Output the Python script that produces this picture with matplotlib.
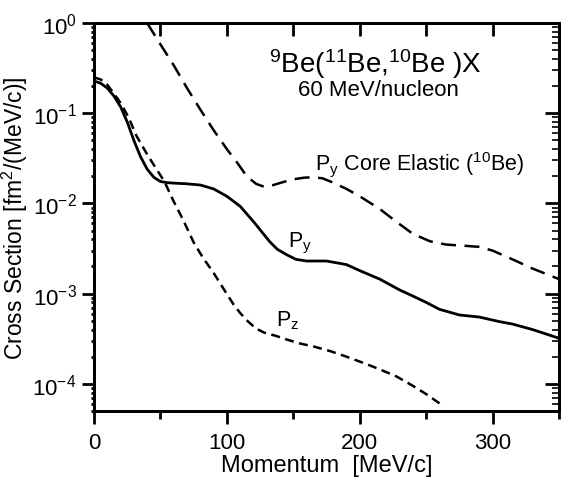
import numpy as np
import matplotlib
matplotlib.use("Agg")
import matplotlib.pyplot as plt
from matplotlib.ticker import LogLocator, MultipleLocator, NullFormatter

plt.rcParams["font.family"] = ["Liberation Sans", "DejaVu Sans"]
plt.rcParams["mathtext.fontset"] = "custom"
plt.rcParams["mathtext.rm"] = "Liberation Sans"
plt.rcParams["mathtext.it"] = "Liberation Sans:italic"
plt.rcParams["mathtext.default"] = "regular"

# ---- data ----
py_x = [0, 5, 10, 15, 20, 25, 30, 35, 40, 45, 50, 55, 60, 70, 80, 90, 100, 110,
        120, 126, 132, 138, 145, 152, 160, 175, 190, 200, 215, 230, 240, 250,
        260, 275, 290, 305, 315, 330, 350]
py_y = [0.228, 0.215, 0.19, 0.155, 0.118, 0.08, 0.05, 0.033, 0.024, 0.0195,
        0.0175, 0.017, 0.0168, 0.0165, 0.016, 0.0145, 0.012, 0.0093, 0.0063,
        0.0049, 0.0038, 0.0031, 0.0027, 0.0024, 0.0023, 0.0023, 0.0021,
        0.0018, 0.00145, 0.0011, 0.00094, 0.0008, 0.00067, 0.00058, 0.00055,
        0.00049, 0.00046, 0.0004, 0.00032]

pz_x = [0, 5, 10, 15, 20, 26, 32, 40, 47, 53, 60, 67, 75, 82, 90, 98, 105,
        110, 116, 122, 128, 137, 145, 155, 165, 178, 190, 203, 215, 228, 240,
        250, 262]
pz_y = [0.25, 0.237, 0.207, 0.165, 0.13, 0.09, 0.056, 0.035, 0.024, 0.0175,
        0.0105, 0.0066, 0.0037, 0.0025, 0.0017, 0.0011, 0.00076, 0.00061,
        0.00049, 0.00041, 0.00037, 0.00034, 0.00031, 0.00028, 0.00026,
        0.00023, 0.0002, 0.00017, 0.000145, 0.00012, 0.000095, 0.000077,
        0.000058]

core_x = [40, 50, 60, 70, 80, 90, 100, 108, 115, 122, 128, 135, 142, 150, 158,
          165, 172, 180, 190, 200, 215, 228, 240, 253, 265, 278, 290, 300,
          315, 330, 350]
core_y = [1.0, 0.58, 0.34, 0.19, 0.11, 0.065, 0.04, 0.028, 0.02, 0.0165,
          0.0153, 0.016, 0.0172, 0.0185, 0.0193, 0.0195, 0.019, 0.017, 0.0145,
          0.012, 0.0087, 0.0062, 0.0046, 0.0038, 0.0035, 0.0034, 0.0033,
          0.003, 0.0024, 0.0019, 0.00145]

xmin, xmax = 0, 350
ymin, ymax = 5.0e-5, 1.0

fig = plt.figure(figsize=(5.61, 4.81), dpi=100)
ax = fig.add_axes([0.1676, 0.1435, 0.8288, 0.8065])

ax.plot(py_x, py_y, "k-", lw=2.0)
ax.plot(pz_x, pz_y, color="k", lw=1.8, linestyle=(0, (3.6, 2.2)))
ax.plot(core_x, core_y, color="k", lw=1.8, linestyle=(0, (6.0, 3.4)))

ax.set_yscale("log")
ax.set_xlim(xmin, xmax)
ax.set_ylim(ymin, ymax)

# left/bottom ticks outward
ax.xaxis.set_major_locator(MultipleLocator(100))
ax.xaxis.set_minor_locator(MultipleLocator(50))
ax.yaxis.set_major_locator(LogLocator(base=10, numticks=10))
ax.yaxis.set_minor_locator(LogLocator(base=10, subs=np.arange(2, 10), numticks=10))
ax.yaxis.set_minor_formatter(NullFormatter())
ax.tick_params(axis="both", which="both", labelsize=16, width=2.0)
ax.tick_params(axis="x", which="major", direction="out", length=9, pad=6, top=False)
ax.tick_params(axis="x", which="minor", direction="out", length=6, top=False)
ax.tick_params(axis="y", which="major", direction="out", length=9, right=False)
ax.tick_params(axis="y", which="minor", left=False, right=False)

# top spine: inward ticks every 50
axt = ax.twiny()
axt.set_xlim(xmin, xmax)
axt.set_xticks([50, 100, 150, 200, 250, 300])
axt.tick_params(axis="x", direction="in", length=9, width=2.0, labeltop=False)

# right spine: inward decade + minor ticks
axr = ax.twinx()
axr.set_yscale("log")
axr.set_ylim(ymin, ymax)
axr.yaxis.set_major_locator(LogLocator(base=10, numticks=10))
axr.yaxis.set_minor_locator(LogLocator(base=10, subs=np.arange(2, 10), numticks=10))
axr.yaxis.set_minor_formatter(NullFormatter())
axr.tick_params(axis="y", which="major", direction="in", length=10, width=2.0, labelright=False)
axr.tick_params(axis="y", which="minor", direction="in", length=5, width=1.2, labelright=False)

for a in (ax, axt, axr):
    for s in a.spines.values():
        s.set_linewidth(2.0)

ax.set_xlabel("Momentum  [MeV/c]", fontsize=17, labelpad=1)
ax.set_ylabel("Cross Section [fm$^2$/(MeV/c)]", fontsize=16.5, labelpad=2)

ax.text(212, 0.29, "$^{9}$Be($^{11}$Be,$^{10}$Be )X", fontsize=20,
        ha="center", va="baseline")
ax.text(214, 0.16, "60 MeV/nucleon", fontsize=16, ha="center", va="baseline")
ax.text(166, 0.028, "P$_y$ Core Elastic ($^{10}$Be)", fontsize=15.5,
        ha="left", va="center")
ax.text(155, 0.0037, "P$_y$", fontsize=15.5, ha="center", va="center")
ax.text(137, 0.00052, "P$_z$", fontsize=15.5, ha="left", va="center")

fig.savefig("out.png", dpi=100)
